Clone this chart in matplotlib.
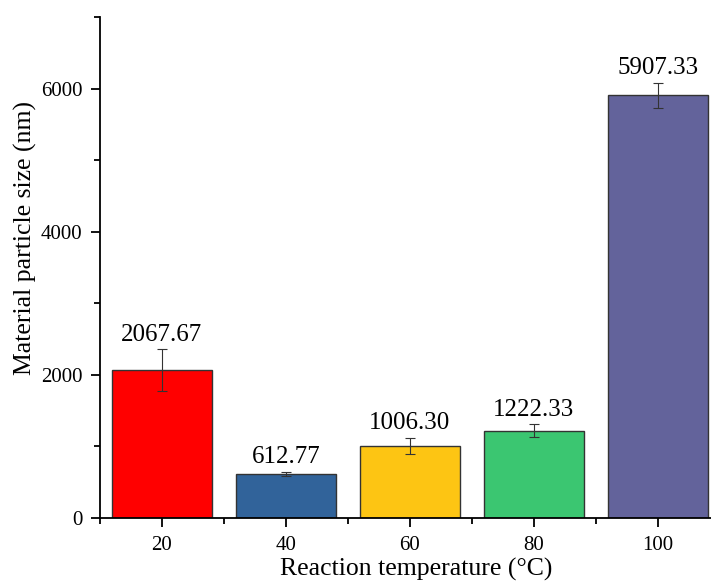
import matplotlib.pyplot as plt
import numpy as np
from matplotlib.ticker import MultipleLocator

temps = ['20', '40', '60', '80', '100']
sizes = [2067.67, 612.77, 1006.30, 1222.33, 5907.33]
errors = [290, 30, 115, 85, 175]
colors = ['#FF0000', '#31639A', '#FDC513', '#3BC671', '#63639B']

plt.rcParams['font.family'] = ['Liberation Serif', 'DejaVu Serif']

fig = plt.figure(figsize=(7.11, 5.81), dpi=100)
ax = fig.add_axes([0.1406, 0.1084, 0.872, 0.8623])

x = np.arange(len(temps))
ax.bar(x, sizes, width=0.8, color=colors, edgecolor='#333333', linewidth=1.0, zorder=2)
ax.errorbar(x, sizes, yerr=errors, fmt='none', ecolor='#333333', elinewidth=0.8,
            capsize=3.4, capthick=0.8, zorder=3)

# value labels above the error bars
for xi, v, e in zip(x, sizes, errors):
    ax.text(xi, v + e + 50, f'{v:.2f}', ha='center', va='bottom', fontsize=18)

ax.set_xlim(-0.5, 4.5)
ax.set_ylim(0, 7000)
ax.set_xticks(x)
ax.set_xticklabels(temps)
ax.xaxis.set_minor_locator(MultipleLocator(1, offset=0.5))
ax.yaxis.set_major_locator(MultipleLocator(2000))
ax.yaxis.set_minor_locator(MultipleLocator(1000))

ax.tick_params(axis='both', which='major', direction='out', length=6.7, width=1.3,
               labelsize=15, pad=6)
ax.tick_params(axis='both', which='minor', direction='out', length=4, width=1.3)

for side in ['top', 'right']:
    ax.spines[side].set_visible(False)
for side in ['left', 'bottom']:
    ax.spines[side].set_linewidth(1.3)

ax.set_xlabel('Reaction temperature (°C)', fontsize=18.5)
ax.xaxis.set_label_coords(0.5105, -0.079)
ax.set_ylabel('Material particle size (nm)', fontsize=18.5)
ax.yaxis.set_label_coords(-0.102, 0.559)

fig.savefig('out.png', dpi=100)
